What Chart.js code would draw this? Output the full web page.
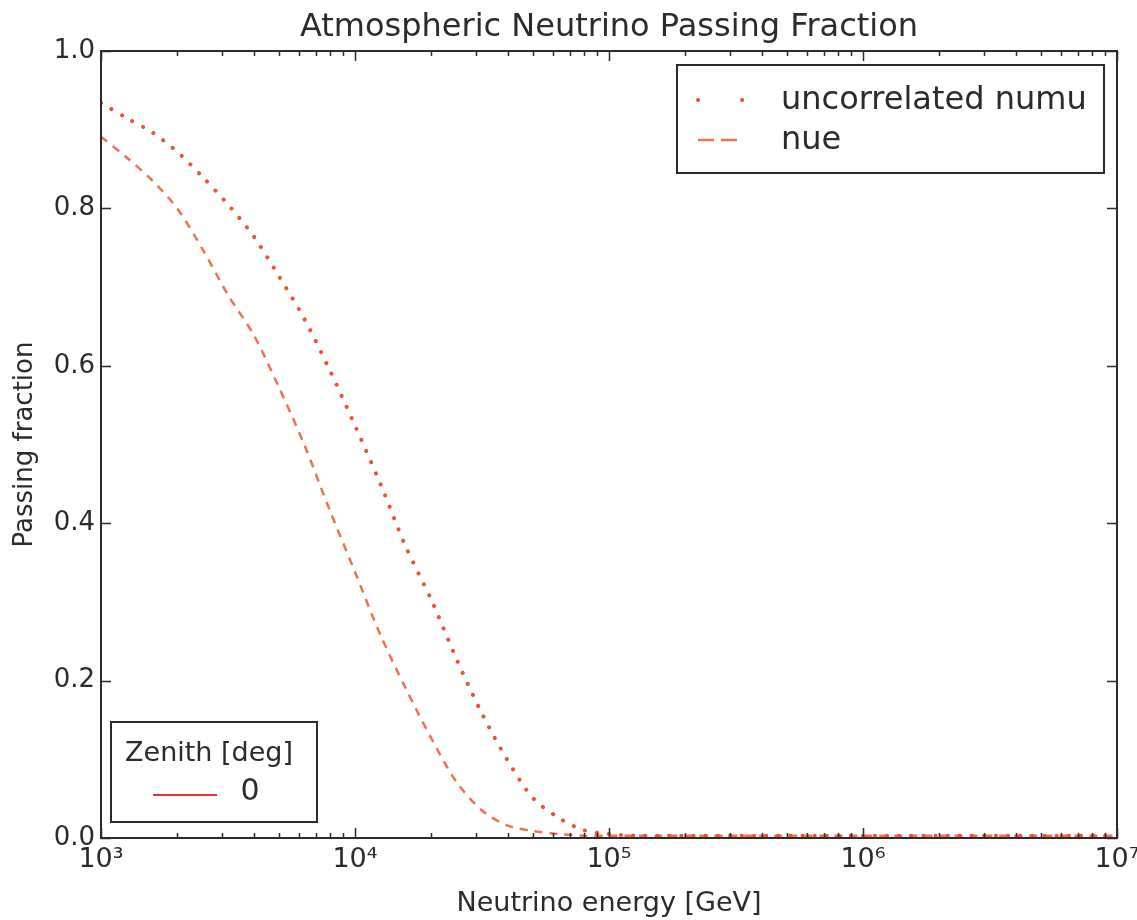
<!DOCTYPE html>
<html>
<head>
<meta charset="utf-8">
<script src="https://cdn.jsdelivr.net/npm/chart.js@4.4.1/dist/chart.umd.min.js"></script>
<style>
  html, body { margin: 0; padding: 0; background: #fff; }
  #wrap { width: 1137px; height: 920px; }
</style>
</head>
<body>
<div id="wrap"><canvas id="passChart" width="1137" height="920"></canvas></div>
<script>
// neutrino energy in GeV
const energies = [1000, 1259, 1585, 1995, 2512, 3162, 3981, 5012, 6310, 7943,
  10000, 12589, 15849, 19953, 25119, 31623, 39811, 50119, 63096, 79433,
  100000, 125893, 158489, 316228, 1000000, 3162278, 10000000];
const numuValues = [0.934, 0.915, 0.897, 0.872, 0.840, 0.805, 0.765, 0.714, 0.660, 0.595,
  0.524, 0.450, 0.370, 0.303, 0.227, 0.158, 0.099, 0.051, 0.026, 0.010,
  0.005, 0.003, 0.003, 0.003, 0.003, 0.003, 0.003];
const nueValues = [0.891, 0.865, 0.836, 0.800, 0.748, 0.690, 0.640, 0.573, 0.500, 0.417,
  0.338, 0.258, 0.190, 0.127, 0.071, 0.035, 0.016, 0.009, 0.005, 0.003,
  0.003, 0.003, 0.003, 0.003, 0.003, 0.003, 0.003];
const xMajorTicks = [1e3, 1e4, 1e5, 1e6, 1e7];
const xTickLabels = ['10³', '10⁴', '10⁵', '10⁶', '10⁷'];
const yTicks = [0, 0.2, 0.4, 0.6, 0.8, 1.0];
const zenithLabels = ['0'];

const FONT = 'DejaVu Sans';
const AXIS = '#2b2b2b';

const toPoints = vals => energies.map((e, i) => ({ x: e, y: vals[i] }));

// minor ticks 2..9 per decade
const xMinorTicks = [];
xMajorTicks.slice(0, -1).forEach(d => {
  for (let k = 2; k <= 9; k++) xMinorTicks.push(d * k);
});

// inward ticks on all four sides + framed box
const frameTicks = {
  id: 'frameTicks',
  afterDraw(chart) {
    const { ctx, chartArea: a, scales } = chart;
    ctx.save();
    ctx.strokeStyle = AXIS;
    ctx.lineWidth = 2;
    ctx.strokeRect(a.left, a.top, a.right - a.left, a.bottom - a.top);
    ctx.lineWidth = 1.5;
    ctx.beginPath();
    const tick = (v, len) => {
      const px = Math.round(scales.x.getPixelForValue(v)) + 0.5;
      ctx.moveTo(px, a.bottom); ctx.lineTo(px, a.bottom - len);
      ctx.moveTo(px, a.top); ctx.lineTo(px, a.top + len);
    };
    xMajorTicks.forEach(v => tick(v, 10));
    xMinorTicks.forEach(v => tick(v, 5));
    yTicks.forEach(v => {
      const py = Math.round(scales.y.getPixelForValue(v)) + 0.5;
      ctx.moveTo(a.left, py); ctx.lineTo(a.left + 10, py);
      ctx.moveTo(a.right, py); ctx.lineTo(a.right - 10, py);
    });
    ctx.stroke();
    ctx.restore();
  }
};

// the two matplotlib-style legend boxes
const boxLegends = {
  id: 'boxLegends',
  afterDraw(chart) {
    const { ctx, data } = chart;
    const legendDash = [[0.1, 44], [16, 7]];
    ctx.save();
    // top right legend
    ctx.fillStyle = '#fff';
    ctx.fillRect(677, 65, 427, 108);
    ctx.strokeStyle = AXIS;
    ctx.lineWidth = 2;
    ctx.strokeRect(677, 65, 427, 108);
    ctx.font = '32px ' + FONT;
    ctx.fillStyle = '#2b2b2b';
    ctx.textBaseline = 'middle';
    data.datasets.forEach((ds, i) => {
      const y = 100 + i * 40;
      ctx.strokeStyle = ds.borderColor;
      ctx.lineWidth = ds.borderWidth;
      ctx.lineCap = ds.borderCapStyle;
      ctx.setLineDash(legendDash[i]);
      ctx.beginPath();
      ctx.moveTo(698, y); ctx.lineTo(744, y);
      ctx.stroke();
      ctx.setLineDash([]);
      ctx.fillText(ds.label, 781, y + 1);
    });
    // bottom left zenith legend
    ctx.fillStyle = '#fff';
    ctx.fillRect(111, 722, 206, 100);
    ctx.strokeStyle = AXIS;
    ctx.lineWidth = 2;
    ctx.lineCap = 'butt';
    ctx.strokeRect(111, 722, 206, 100);
    ctx.fillStyle = '#2b2b2b';
    ctx.font = '27px ' + FONT;
    ctx.textAlign = 'center';
    ctx.fillText('Zenith [deg]', 209, 754);
    ctx.strokeStyle = '#e8303a';
    ctx.lineWidth = 2;
    ctx.beginPath();
    ctx.moveTo(153, 795); ctx.lineTo(217, 795);
    ctx.stroke();
    ctx.font = '30px ' + FONT;
    ctx.fillText(zenithLabels[0], 250, 792);
    ctx.restore();
  }
};

new Chart(document.getElementById('passChart'), {
  type: 'line',
  data: {
    datasets: [{
      label: 'uncorrelated numu',
      data: toPoints(numuValues),
      borderColor: '#f0502f',
      borderWidth: 4,
      borderDash: [0.1, 12],
      borderCapStyle: 'round',
      pointRadius: 0,
      tension: 0.3,
      fill: false
    }, {
      label: 'nue',
      data: toPoints(nueValues),
      borderColor: '#f2704e',
      borderWidth: 2.5,
      borderDash: [8, 7],
      borderCapStyle: 'butt',
      pointRadius: 0,
      tension: 0.3,
      fill: false
    }]
  },
  options: {
    responsive: false,
    animation: false,
    layout: { padding: { right: 20, left: 0, bottom: 0, top: 0 } },
    plugins: {
      legend: { display: false },
      tooltip: { enabled: false },
      title: {
        display: true,
        fullSize: false,
        text: 'Atmospheric Neutrino Passing Fraction',
        color: '#2b2b2b',
        font: { family: FONT, size: 32, weight: 'normal', lineHeight: 1.2 },
        padding: { top: 8, bottom: 4.6 }
      }
    },
    scales: {
      x: {
        type: 'logarithmic',
        min: 1e3,
        max: 1e7,
        afterBuildTicks: s => { s.ticks = xMajorTicks.map(v => ({ value: v })); },
        afterFit: s => { s.height = 82; s.paddingRight = 0; s.paddingLeft = 0; },
        grid: { display: false, drawTicks: false },
        border: { display: false },
        ticks: {
          autoSkip: false,
          maxRotation: 0,
          padding: 6,
          color: '#2b2b2b',
          font: { family: FONT, size: 27 },
          callback: (v, i) => xTickLabels[i]
        },
        title: {
          display: true,
          text: 'Neutrino energy [GeV]',
          color: '#2b2b2b',
          font: { family: FONT, size: 27 },
          padding: { top: 5, bottom: 0 }
        }
      },
      y: {
        min: 0,
        max: 1,
        afterBuildTicks: s => { s.ticks = yTicks.map(v => ({ value: v })); },
        afterFit: s => { s.width = 101; },
        grid: { display: false, drawTicks: false },
        border: { display: false },
        ticks: {
          padding: 6,
          color: '#2b2b2b',
          font: { family: FONT, size: 26 },
          callback: v => v.toFixed(1)
        },
        title: {
          display: true,
          text: 'Passing fraction',
          color: '#2b2b2b',
          font: { family: FONT, size: 26 },
          padding: { top: 10, bottom: 0 }
        }
      }
    }
  },
  plugins: [frameTicks, boxLegends]
});
</script>
</body>
</html>
